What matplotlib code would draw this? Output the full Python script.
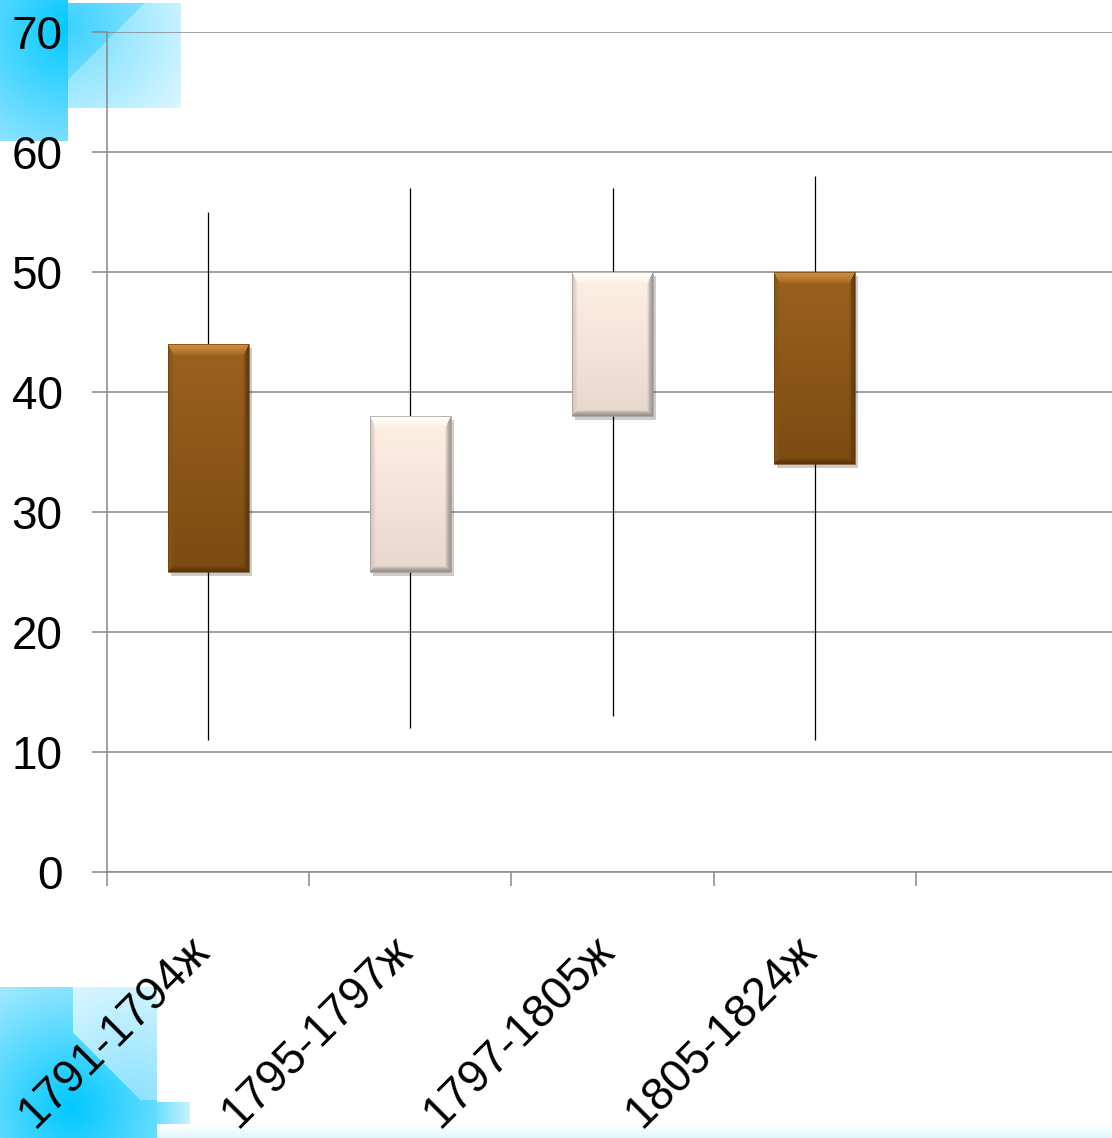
import numpy as np
import matplotlib
matplotlib.use("Agg")
import matplotlib.pyplot as plt
from matplotlib.transforms import offset_copy, blended_transform_factory
from matplotlib.patches import Rectangle

# ---- data ----
categories = ['1791-1794ж', '1795-1797ж', '1797-1805ж', '1805-1824ж']
open_vals = [44, 25, 38, 50]
close_vals = [25, 38, 50, 34]
high_vals = [55, 57, 57, 58]
low_vals = [11, 12, 13, 11]
n_slots = 5
y_ticks = [0, 10, 20, 30, 40, 50, 60, 70]

plt.rcParams['font.family'] = ['Liberation Sans', 'DejaVu Sans']

W_PX, H_PX = 1112, 1138
fig = plt.figure(figsize=(W_PX / 100, H_PX / 100), dpi=100)
fig.patch.set_facecolor('white')

# ---- background decoration (cyan glows) ----
yy, xx = np.mgrid[0:H_PX, 0:W_PX] + 0.5
rgba = np.zeros((H_PX, W_PX, 4))


def paint(mask, c0, c1, t):
    t = np.clip(t, 0, 1)
    for k in range(3):
        ch = c0[k] * (1 - t) + c1[k] * t
        rgba[..., k] = np.where(mask, ch / 255.0, rgba[..., k])
    rgba[..., 3] = np.where(mask, 1.0, rgba[..., 3])


bright = (0, 200, 255)
mid = (110, 220, 255)
pale = (220, 247, 255)
# top-left
mB = (xx >= 68) & (xx < 181) & (yy >= 3) & (yy < 108)
paint(mB, mid, pale, np.hypot(xx - 68, yy - 25) / 140)
mB2 = (mB & ((xx - 68) + (yy - 25) < 55)) | ((xx >= 68) & (xx < 123) & (yy >= 3) & (yy < 25))
paint(mB2, (60, 210, 255), (140, 226, 255), np.hypot(xx - 68, yy - 25) / 90)
mA = (xx < 68) & (yy < 141)
paint(mA, bright, (160, 230, 255), np.hypot(xx - 72, yy - 28) / 150)
# bottom-left
mD = (xx >= 157) & (xx < 190) & (yy >= 1102) & (yy < 1124)
paint(mD, (110, 222, 255), (200, 242, 255), (xx - 157) / 33)
mC = (xx < 157) & (yy >= 987)
paint(mC, bright, (175, 235, 255), np.hypot(xx - 72, yy - 1108) / 150)
mC2 = mC & (xx >= 73) & (yy < 1100) & ((xx - yy) > -960)
paint(mC2, (140, 225, 255), (218, 247, 255), np.hypot(xx - 133, yy - 1100) / 130)
# bottom strip
mS = (xx >= 157) & (yy >= 1124)
t = (yy - 1124) / 14
for k, cv in enumerate((225, 247, 253)):
    rgba[..., k] = np.where(mS, (255 * (1 - t) + cv * t) / 255.0, rgba[..., k])
rgba[..., 3] = np.where(mS, 1.0, rgba[..., 3])
fig.figimage(rgba, xo=0, yo=0, origin='upper', zorder=-5)

# ---- axes ----
ax = fig.add_axes([107 / W_PX, (H_PX - 872) / H_PX, 1011 / W_PX, 840 / H_PX])
ax.set_facecolor('none')
ax.set_zorder(2)
ax.set_xlim(-0.5, n_slots - 0.5)
ax.set_ylim(0, 70)

gcol = '#878787'
ax.set_yticks(y_ticks)
ax.set_yticklabels([str(v) for v in y_ticks])
ax.yaxis.grid(True, color=gcol, lw=1.1, zorder=0)
ax.set_axisbelow(True)
ax.tick_params(axis='y', length=11, width=1.1, color=gcol, pad=21, labelsize=33)
ax.set_xticks(np.arange(n_slots) - 0.5, minor=False)
ax.set_xticklabels([])
ax.tick_params(axis='x', length=10, width=1.1, color=gcol, direction='out')
for s in ['top', 'right']:
    ax.spines[s].set_visible(False)
for s in ['left', 'bottom']:
    ax.spines[s].set_color(gcol)
    ax.spines[s].set_linewidth(1.1)

# x labels (rotated)
lbl_tr = offset_copy(blended_transform_factory(ax.transData, ax.transAxes),
                     fig=fig, x=-5, y=-72, units='dots')
for i, c in enumerate(categories):
    ax.text(i, 0, c, transform=lbl_tr, rotation=45, ha='right', va='center',
            rotation_mode='anchor', fontsize=33, color='black', clip_on=False)

# wicks
xs = np.arange(len(categories))
ax.vlines(xs, low_vals, high_vals, color='black', lw=0.9, zorder=2)

# candles
fig.canvas.draw()
ppx = abs(ax.transData.transform((1, 0))[0] - ax.transData.transform((0, 0))[0])
ppy = abs(ax.transData.transform((0, 1))[1] - ax.transData.transform((0, 0))[1])
bw = 0.4


def bevel_img(Hh, Ww, top, bot, e_top, e_left, e_right, e_bot, bt=12, bs=6, bb=6):
    y = np.arange(Hh)[:, None] + 0.5
    x = np.arange(Ww)[None, :] + 0.5
    tt = (y / Hh)[..., None]
    base = np.array(top) * (1 - tt) + np.array(bot) * tt
    img = np.broadcast_to(base, (Hh, Ww, 3)).astype(float).copy()
    d = np.stack(np.broadcast_arrays(y / bt, (Hh - y) / bb, x / bs, (Ww - x) / bs))
    idx = np.argmin(d, axis=0)
    mn = np.min(d, axis=0)
    cols = [e_top, e_bot, e_left, e_right]
    for k in range(4):
        m = (idx == k) & (mn < 1)
        f = (1 - mn ** 1.5)[..., None]
        blend = img * (1 - f) + np.array(cols[k]) * f
        img = np.where(m[..., None], blend, img)
    return np.clip(img / 255.0, 0, 1)


shadow_tr = offset_copy(ax.transData, fig=fig, x=3, y=-4, units='dots')
for i, (o, c) in enumerate(zip(open_vals, close_vals)):
    lo, hi = min(o, c), max(o, c)
    up = c > o
    Hh = max(int(round((hi - lo) * ppy)), 4)
    Ww = int(round(bw * ppx))
    if up:
        img = bevel_img(Hh, Ww, (255, 240, 228), (232, 215, 205),
                        (255, 253, 250), (212, 200, 194), (160, 150, 146), (150, 142, 138))
        edge = '#a09894'
    else:
        img = bevel_img(Hh, Ww, (155, 98, 30), (124, 75, 18),
                        (205, 140, 65), (135, 84, 24), (95, 57, 12), (88, 53, 10))
        edge = '#70440f'
    sh = Rectangle((i - bw / 2, lo), bw, hi - lo, transform=shadow_tr,
                   facecolor='#000000', alpha=0.2, lw=0, zorder=2.5)
    ax.add_patch(sh)
    ax.imshow(img, extent=(i - bw / 2, i + bw / 2, lo, hi), aspect='auto',
              interpolation='bilinear', zorder=3)
    ax.add_patch(Rectangle((i - bw / 2, lo), bw, hi - lo, facecolor='none',
                           edgecolor=edge, lw=0.5, zorder=3.5))

ax.set_xlim(-0.5, n_slots - 0.5)
ax.set_ylim(0, 70)

fig.savefig('out.png', dpi=100, facecolor='white')
